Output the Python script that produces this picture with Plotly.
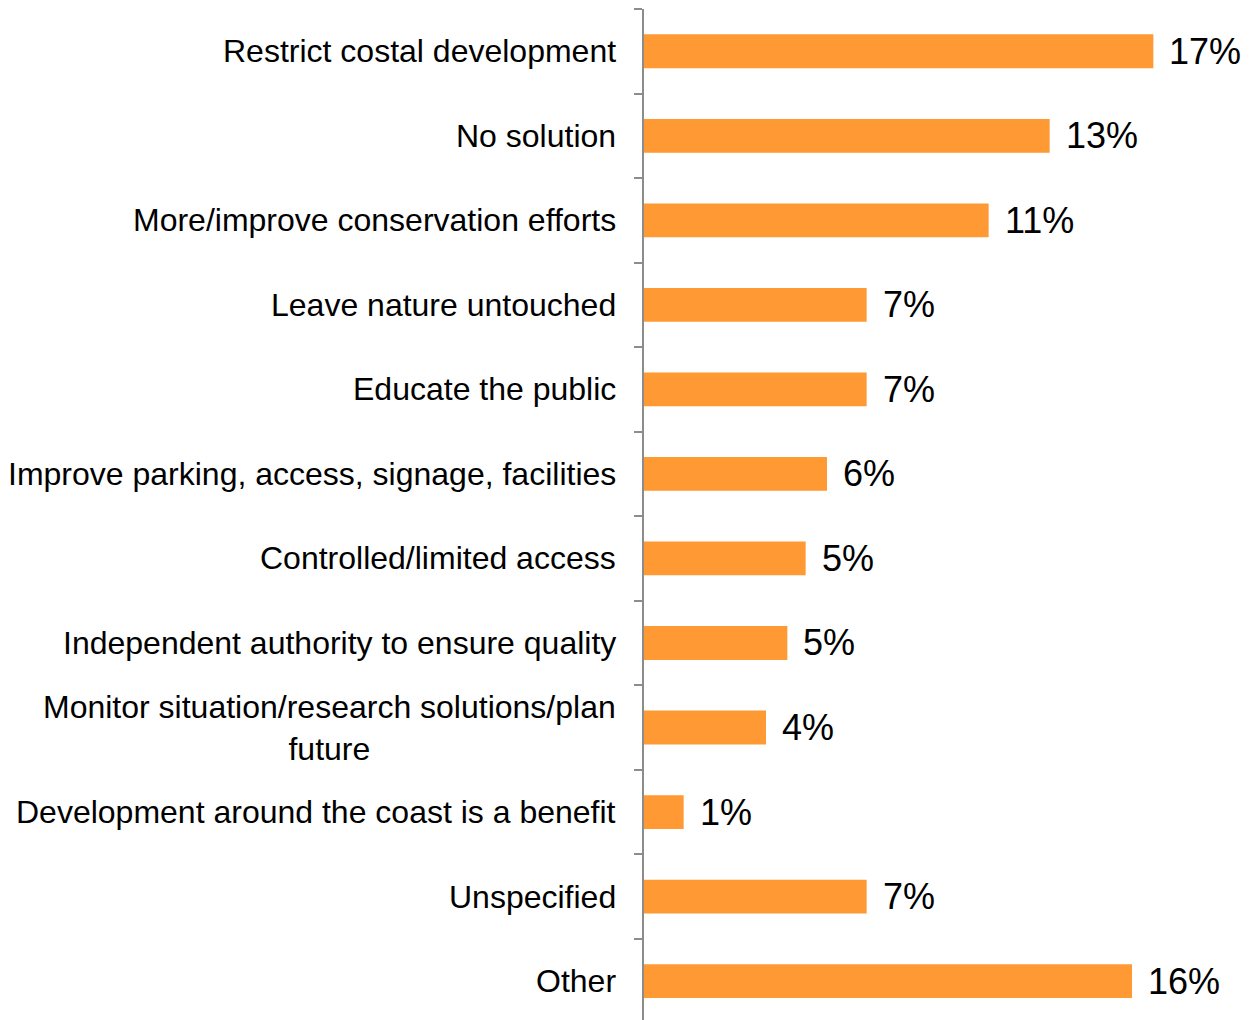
import plotly.graph_objects as go

categories = [
    "Restrict costal development",
    "No solution",
    "More/improve conservation efforts",
    "Leave nature untouched",
    "Educate the public",
    "Improve parking, access, signage, facilities",
    "Controlled/limited access",
    "Independent authority to ensure quality",
    "Monitor situation/research solutions/plan<br>future",
    "Development around the coast is a benefit",
    "Unspecified",
    "Other",
]
values = [16.7, 13.3, 11.3, 7.3, 7.3, 6.0, 5.3, 4.7, 4.0, 1.3, 7.3, 16.0]
value_labels = ["17%", "13%", "11%", "7%", "7%", "6%", "5%", "5%", "4%", "1%", "7%", "16%"]

FONT = "Liberation Sans, Arial, sans-serif"
BAR_COLOR = "#FF9933"
AXIS_COLOR = "#8C8C8C"

fig = go.Figure()
fig.add_trace(go.Bar(
    x=values,
    y=categories,
    orientation="h",
    marker=dict(color=BAR_COLOR, line=dict(width=0)),
    hoverinfo="skip",
))

annotations = []
for cat, v, lab in zip(categories, values, value_labels):
    annotations.append(dict(
        x=v, y=cat, xref="x", yref="y", text=lab, showarrow=False,
        xanchor="left", yanchor="middle", xshift=14,
        font=dict(family=FONT, size=36, color="#000000"),
    ))
    annotations.append(dict(
        x=0, y=cat, xref="x", yref="y", text=cat, showarrow=False,
        xanchor="right", yanchor="middle", xshift=-26, align="center",
        font=dict(family=FONT, size=32, color="#000000"),
    ))

fig.update_layout(
    width=1251, height=1012,
    margin=dict(l=636, r=5, t=1, b=0),
    paper_bgcolor="white", plot_bgcolor="white",
    bargap=0.6,
    showlegend=False,
    annotations=annotations,
    xaxis=dict(range=[0, 20], visible=False, fixedrange=True),
    yaxis=dict(
        type="category",
        categoryorder="array", categoryarray=categories,
        range=[11.46, -0.5],
        showticklabels=False,
        showline=True, linecolor=AXIS_COLOR, linewidth=2,
        ticks="outside", tickson="boundaries", ticklen=8,
        tickcolor=AXIS_COLOR, tickwidth=2,
        showgrid=False, zeroline=False,
    ),
)

fig.write_html("out.html")
